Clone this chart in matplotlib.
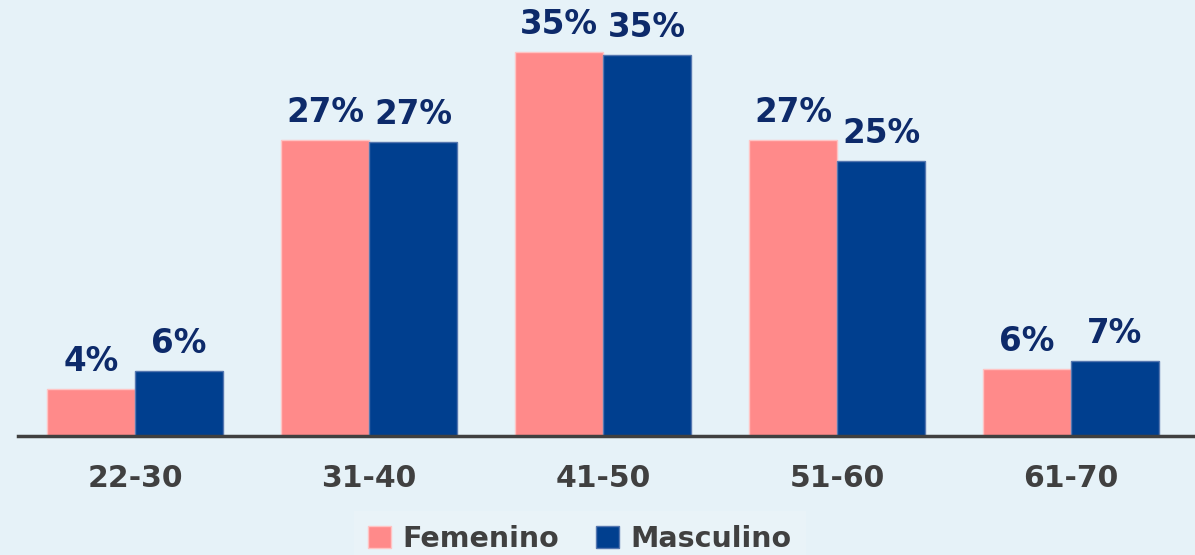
import numpy as np
import matplotlib.pyplot as plt

# datos
grupos = ['22-30', '31-40', '41-50', '51-60', '61-70']
femenino = [4.3, 27.0, 35.0, 27.0, 6.1]
masculino = [5.9, 26.8, 34.7, 25.1, 6.8]
etiq_fem = ['4%', '27%', '35%', '27%', '6%']
etiq_masc = ['6%', '27%', '35%', '25%', '7%']

fondo = '#E6F2F8'
rosa = '#FF8A8A'
azul = '#003F8F'
navy = '#0D2A6A'
gris = '#404040'

fig = plt.figure(figsize=(11.95, 5.55), dpi=100, facecolor=fondo)
ax = fig.add_axes([18 / 1195, 119 / 555, 1177 / 1195, 436 / 555])
ax.set_facecolor(fondo)

x = np.arange(len(grupos))
w = 0.376
ax.bar(x - w / 2, femenino, w, color=rosa, edgecolor='#FFC4C4', linewidth=1, label='Femenino')
ax.bar(x + w / 2, masculino, w, color=azul, edgecolor='#5577B0', linewidth=1, label='Masculino')

for xi, v, t in zip(x, femenino, etiq_fem):
    ax.text(xi - w / 2, v + 1.0, t, ha='center', va='bottom', fontsize=23.5,
            fontweight='bold', color=navy)
for xi, v, t in zip(x, masculino, etiq_masc):
    ax.text(xi + w / 2, v + 1.0, t, ha='center', va='bottom', fontsize=23.5,
            fontweight='bold', color=navy)

ax.set_xlim(-0.5, 4.53)
ax.set_ylim(0, 436 / 10.97)
ax.set_xticks(x)
ax.set_xticklabels(grupos, fontsize=21.5, fontweight='bold', color=gris)
ax.tick_params(axis='x', length=0, pad=20)
ax.set_yticks([])
for s in ['top', 'right', 'left']:
    ax.spines[s].set_visible(False)
ax.spines['bottom'].set_color(gris)
ax.spines['bottom'].set_linewidth(2.5)

leg = fig.legend(loc='upper center', bbox_to_anchor=(580 / 1195, 44 / 555), ncol=2,
                 frameon=True, fancybox=False, prop={'size': 20.5, 'weight': 'bold'},
                 handlelength=0.8, handleheight=0.8, handletextpad=0.4,
                 columnspacing=1.3, borderpad=0.5, borderaxespad=0)
leg.get_frame().set_facecolor('#EAF4F8')
leg.get_frame().set_edgecolor('none')
for t in leg.get_texts():
    t.set_color(gris)
# la leyenda queda cortada por abajo como en el original, pero el texto entero
fig.canvas.draw()
bb = leg.get_window_extent()
txt_bb = leg.get_texts()[0].get_window_extent()
dy = (2 - txt_bb.y0) / 555
if dy > 0:
    leg.set_bbox_to_anchor((580 / 1195, 44 / 555 + dy), transform=fig.transFigure)

fig.savefig('out.png', dpi=100, facecolor=fondo)
